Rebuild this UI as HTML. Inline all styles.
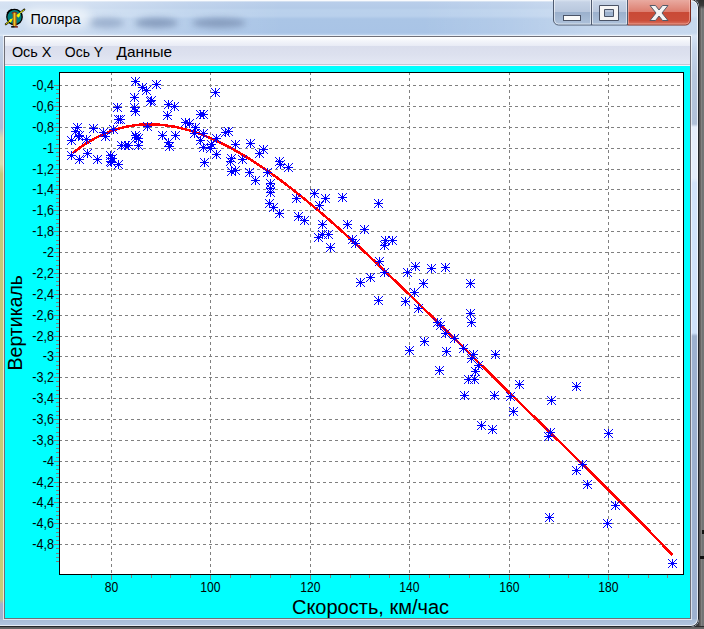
<!DOCTYPE html>
<html lang="ru"><head><meta charset="utf-8"><title>Поляра</title>
<style>
html,body{margin:0;padding:0;}
body{width:704px;height:629px;overflow:hidden;position:relative;font-family:"Liberation Sans",sans-serif;
 background:linear-gradient(to right,#3a3a3a 0,#3a3a3a 698px,#2e2e2e 698px,#565656 699.5px,#686565 700.5px,#828282 701.5px,#717375 702.5px,#777 704px);}
.abs{position:absolute}
#shadowb{left:0;top:626px;width:704px;height:3px;background:linear-gradient(#2b2b2b 0,#2b2b2b 1px,#5e5e5e 1px,#6a6a6a 3px)}
#win{left:-8px;top:-1px;width:707px;height:628px;border-radius:8px;overflow:hidden;background:#bcd1ea;}
#titlebg{left:0;top:1px;width:707px;height:37px;background:linear-gradient(to right,rgba(255,255,255,.42) 8px,rgba(255,255,255,.36) 100px,rgba(255,255,255,.12) 200px,rgba(255,255,255,0) 290px,rgba(255,255,255,0) 430px,rgba(255,255,255,.12) 520px,rgba(255,255,255,.3) 600px,rgba(255,255,255,.34) 706px),linear-gradient(#f0f4fa 0,#eaf0f8 1px,#b9ceea 2px,#b4cbe8 8px,#bad1ec 10px,#b9d0ec 16px,#aac5e6 19px,#a9c4e6 33px,#bed3ed 35px,#c6d9f0 37px);}
.blob{border-radius:50%;background:#8298ba;filter:blur(3.2px);opacity:.9}
#lborder{left:8px;top:37px;width:4px;height:590px;background:linear-gradient(#c4d4ea 0,#b8c8e0 30px,#aebdd6 92px,#d6dab0 102px,#d8dcb0 128px,#c2ca7a 138px,#c4cc78 563px,#a1b3ce 568px,#9fb1cc 590px)}
#rborder{left:699px;top:37px;width:7px;height:590px;background:linear-gradient(#d6e4f5 0,#c6d6ec 12px,#b7c7de 40px,#b0c0d8 88px,#e6eefb 91px,#e4edfb 142px,#d2e3fb 147px,#cfe2fb 297px,#9db1cf 300px,#9db1cf 590px)}
#bborder{left:8px;top:620px;width:699px;height:7px;background:linear-gradient(#a6bad5 0,#b0c4de 5px,#b0c4de 7px)}
#client{left:12px;top:37px;width:687px;height:583px;background:#6f6f78;box-shadow:0 0 0 1px rgba(255,255,255,.62)}
#menubar{left:13px;top:38px;width:685px;height:29px;background:linear-gradient(#ffffff 0,#f3f5fa 4px,#e8ebf5 9px,#d9ddec 9px,#dde1ef 18px,#e4e8f4 27px,#c3c7d6 27px,#c3c7d6 28px,#f4f4fa 28px);}
#cyan{left:13px;top:67px;width:685px;height:552px;background:#00ffff}
#edge{left:0;top:0;width:707px;height:628px;border-radius:8px;box-sizing:border-box;box-shadow:inset 0 0 0 1px #23262b,inset 0 0 0 2px rgba(255,255,255,.7)}
#tglow{left:32px;top:9px;width:66px;height:20px;border-radius:10px;background:rgba(255,255,255,.55);filter:blur(5px)}
.btns{left:561px;top:-1px;height:26px;}
.btn{position:absolute;top:0;height:25px;box-sizing:border-box}
svg.chart{position:absolute;left:0;top:0}
</style></head><body>
<div class="abs" id="shadowb"></div>
<div class="abs" style="left:702px;top:530px;width:2px;height:4px;background:#111"></div><div class="abs" style="left:700px;top:556px;width:4px;height:3px;background:#111"></div>
<div class="abs" style="left:699px;top:0;width:5px;height:9px;background:linear-gradient(#2f2f2f,#3a3a3a 60%,rgba(60,60,60,0))"></div>
<div class="abs" id="win">
 <div class="abs" id="titlebg"></div>
 <div class="abs blob" style="left:97px;top:19px;width:35px;height:10px;opacity:.6"></div>
 <div class="abs blob" style="left:143px;top:19px;width:43px;height:10px"></div>
 <div class="abs blob" style="left:200px;top:19px;width:54px;height:10px"></div>
 <div class="abs" id="lborder"></div>
 <div class="abs" id="rborder"></div>
 <div class="abs" id="bborder"></div>
 <div class="abs" id="client"></div>
 <div class="abs" id="menubar"></div>
 <div class="abs" id="cyan"></div>
 <div class="abs" id="tglow"></div>
 <div class="abs" id="edge"></div>
</div>
<svg class="chart" width="704" height="629" viewBox="0 0 704 629" style="position:absolute;left:0;top:0">
<!-- icon -->
<g>
<circle cx="14.5" cy="17" r="7.7" fill="#008080" stroke="#000" stroke-width="1.3"/>
<path d="M7.2 13.5A8 8 0 0 1 12 9.6" fill="none" stroke="#000" stroke-width="1.6"/>
<path d="M5.2 24.7L8.4 22.2M21.6 11.7L24.9 9.1" fill="none" stroke="#000" stroke-width="1.9"/>
<path d="M9.4 21.4L10 19.6L11.8 19.2L11.4 21L10.6 22.2ZM17.4 16L18 14.2L20 14.4L19.2 16.6L18 17.2Z" fill="#ffff00" stroke="#ffff00" stroke-width=".7" stroke-linejoin="round"/>
<path d="M5.7 24.3L24.3 9.7" stroke="#ffff00" stroke-width=".95" fill="none"/>
<path d="M11.8 13.5Q14.6 10.8 17.3 13.5" fill="none" stroke="#7a1a1a" stroke-width="1.3"/>
<rect x="12.7" y="12.6" width="3.9" height="13.6" fill="#a65c12"/>
<rect x="13.7" y="12.8" width="1.3" height="13.4" fill="#ecca2c"/>
<rect x="15.2" y="13" width=".6" height="13.2" fill="#dc9a12"/>
<rect x="11.2" y="26.1" width="3.6" height="1.5" fill="#000"/>
<rect x="14.8" y="26.1" width="3.1" height="1.5" fill="#7a1a10"/>
</g>
<g font-family="Liberation Sans, sans-serif" font-size="15px" fill="#000">
<text x="30.4" y="23.8" textLength="50.2" lengthAdjust="spacingAndGlyphs">Поляра</text>
<text x="11.9" y="56.7" textLength="39.6" lengthAdjust="spacingAndGlyphs">Ось X</text>
<text x="64.8" y="56.7" textLength="38.4" lengthAdjust="spacingAndGlyphs">Ось Y</text>
<text x="116.6" y="56.7" textLength="55.6" lengthAdjust="spacingAndGlyphs">Данные</text>
</g>
<!-- caption buttons -->
<defs>
<linearGradient id="gb" x1="0" y1="0" x2="0" y2="1"><stop offset="0" stop-color="#d9e3f0"/><stop offset=".08" stop-color="#c6d3e6"/><stop offset=".48" stop-color="#b8c7dd"/><stop offset=".5" stop-color="#9cb1cd"/><stop offset="1" stop-color="#aec2db"/></linearGradient>
<linearGradient id="gc" x1="0" y1="0" x2="0" y2="1"><stop offset="0" stop-color="#e9aaa0"/><stop offset=".48" stop-color="#dc7d6e"/><stop offset=".5" stop-color="#c94a36"/><stop offset=".82" stop-color="#cb4e3a"/><stop offset="1" stop-color="#dd7b6a"/></linearGradient>
</defs>
<path d="M553.5 0V20a5 5 0 0 0 5 5H627.5V0Z" fill="url(#gb)"/>
<path d="M627.5 0V25H685.5a5 5 0 0 0 5-5V0Z" fill="url(#gc)"/>
<path d="M553.5 0V20a5 5 0 0 0 5 5H627.5M591.5 0V25M627.5 0V25" fill="none" stroke="#4f5b70" stroke-width="1"/>
<path d="M627.5 25H685.5a5 5 0 0 0 5-5V0" fill="none" stroke="#7d2a1e" stroke-width="1"/>
<path d="M554.5 0V20a4 4 0 0 0 4 4H590.5V0M592.5 0V24H626.5V0" fill="none" stroke="rgba(255,255,255,.55)" stroke-width="1"/>
<path d="M628.5 0V24H685.5a4 4 0 0 0 4-4V0" fill="none" stroke="rgba(255,200,190,.5)" stroke-width="1"/>
<rect x="563.5" y="15.5" width="17" height="5" fill="#fafafa" stroke="#4a5366" stroke-width="1"/>
<path d="M599.5 5.5H618.5V20.5H599.5ZM604.5 9.5V16.5H613.5V9.5Z" fill="#f6f6f6" fill-rule="evenodd" stroke="#4a5366" stroke-width="1"/>
<path d="M650 5.5H655.5L659 10L662.5 5.5H668L662 13L668 20.5H662.5L659 16L655.5 20.5H650L656 13Z" fill="#f4f4f4" stroke="#555a68" stroke-width="1" stroke-linejoin="round"/>
</svg>
<svg class="chart" width="704" height="629" viewBox="0 0 704 629"><rect x="59.5" y="72.5" width="624.0" height="502.0" fill="#fff"/>
<path d="M59.0 85.5H683.0M59.0 106.5H683.0M59.0 127.5H683.0M59.0 148.5H683.0M59.0 169.5H683.0M59.0 189.5H683.0M59.0 210.5H683.0M59.0 231.5H683.0M59.0 252.5H683.0M59.0 273.5H683.0M59.0 294.5H683.0M59.0 315.5H683.0M59.0 336.5H683.0M59.0 356.5H683.0M59.0 377.5H683.0M59.0 398.5H683.0M59.0 419.5H683.0M59.0 440.5H683.0M59.0 461.5H683.0M59.0 482.5H683.0M59.0 502.5H683.0M59.0 523.5H683.0M59.0 544.5H683.0M111.5 72.0V574.0M210.5 72.0V574.0M310.5 72.0V574.0M409.5 72.0V574.0M509.5 72.0V574.0M608.5 72.0V574.0" stroke="#808080" stroke-width="1" stroke-dasharray="3 3" fill="none" shape-rendering="crispEdges"/>
<path d="M54.0 85.5H59.0M56.0 89.5H59.0M56.0 93.5H59.0M56.0 98.5H59.0M56.0 102.5H59.0M54.0 106.5H59.0M56.0 110.5H59.0M56.0 114.5H59.0M56.0 118.5H59.0M56.0 123.5H59.0M54.0 127.5H59.0M56.0 131.5H59.0M56.0 135.5H59.0M56.0 139.5H59.0M56.0 144.5H59.0M54.0 148.5H59.0M56.0 152.5H59.0M56.0 156.5H59.0M56.0 160.5H59.0M56.0 164.5H59.0M54.0 169.5H59.0M56.0 173.5H59.0M56.0 177.5H59.0M56.0 181.5H59.0M56.0 185.5H59.0M54.0 189.5H59.0M56.0 194.5H59.0M56.0 198.5H59.0M56.0 202.5H59.0M56.0 206.5H59.0M54.0 210.5H59.0M56.0 214.5H59.0M56.0 219.5H59.0M56.0 223.5H59.0M56.0 227.5H59.0M54.0 231.5H59.0M56.0 235.5H59.0M56.0 240.5H59.0M56.0 244.5H59.0M56.0 248.5H59.0M54.0 252.5H59.0M56.0 256.5H59.0M56.0 260.5H59.0M56.0 265.5H59.0M56.0 269.5H59.0M54.0 273.5H59.0M56.0 277.5H59.0M56.0 281.5H59.0M56.0 285.5H59.0M56.0 290.5H59.0M54.0 294.5H59.0M56.0 298.5H59.0M56.0 302.5H59.0M56.0 306.5H59.0M56.0 310.5H59.0M54.0 315.5H59.0M56.0 319.5H59.0M56.0 323.5H59.0M56.0 327.5H59.0M56.0 331.5H59.0M54.0 336.5H59.0M56.0 340.5H59.0M56.0 344.5H59.0M56.0 348.5H59.0M56.0 352.5H59.0M54.0 356.5H59.0M56.0 361.5H59.0M56.0 365.5H59.0M56.0 369.5H59.0M56.0 373.5H59.0M54.0 377.5H59.0M56.0 381.5H59.0M56.0 386.5H59.0M56.0 390.5H59.0M56.0 394.5H59.0M54.0 398.5H59.0M56.0 402.5H59.0M56.0 406.5H59.0M56.0 411.5H59.0M56.0 415.5H59.0M54.0 419.5H59.0M56.0 423.5H59.0M56.0 427.5H59.0M56.0 432.5H59.0M56.0 436.5H59.0M54.0 440.5H59.0M56.0 444.5H59.0M56.0 448.5H59.0M56.0 452.5H59.0M56.0 457.5H59.0M54.0 461.5H59.0M56.0 465.5H59.0M56.0 469.5H59.0M56.0 473.5H59.0M56.0 477.5H59.0M54.0 482.5H59.0M56.0 486.5H59.0M56.0 490.5H59.0M56.0 494.5H59.0M56.0 498.5H59.0M54.0 502.5H59.0M56.0 507.5H59.0M56.0 511.5H59.0M56.0 515.5H59.0M56.0 519.5H59.0M54.0 523.5H59.0M56.0 528.5H59.0M56.0 532.5H59.0M56.0 536.5H59.0M56.0 540.5H59.0M54.0 544.5H59.0M56.0 548.5H59.0M56.0 553.5H59.0M56.0 557.5H59.0M56.0 561.5H59.0M91.5 575.0V578.0M111.5 575.0V580.0M131.5 575.0V578.0M151.5 575.0V578.0M170.5 575.0V578.0M190.5 575.0V578.0M210.5 575.0V580.0M230.5 575.0V578.0M250.5 575.0V578.0M270.5 575.0V578.0M290.5 575.0V578.0M310.5 575.0V580.0M330.5 575.0V578.0M350.5 575.0V578.0M369.5 575.0V578.0M389.5 575.0V578.0M409.5 575.0V580.0M429.5 575.0V578.0M449.5 575.0V578.0M469.5 575.0V578.0M489.5 575.0V578.0M509.5 575.0V580.0M529.5 575.0V578.0M549.5 575.0V578.0M568.5 575.0V578.0M588.5 575.0V578.0M608.5 575.0V580.0M628.5 575.0V578.0M648.5 575.0V578.0M667.5 575.0V578.0" stroke="#808080" stroke-width="1" fill="none" shape-rendering="crispEdges"/>
<polyline points="72.7,153.2 75.7,150.9 78.7,148.6 81.7,146.5 84.7,144.5 87.7,142.6 90.7,140.8 93.7,139.0 96.7,137.4 99.7,135.9 102.7,134.5 105.7,133.2 108.7,132.0 111.7,130.9 114.7,129.9 117.7,128.9 120.7,128.1 123.7,127.3 126.7,126.7 129.7,126.1 132.7,125.6 135.7,125.2 138.7,124.8 141.7,124.6 144.7,124.4 147.7,124.3 150.7,124.3 153.7,124.4 156.7,124.5 159.7,124.7 162.7,125.0 165.7,125.4 168.7,125.8 171.7,126.3 174.7,126.8 177.7,127.4 180.7,128.1 183.7,128.9 186.7,129.7 189.7,130.5 192.7,131.5 195.7,132.5 198.7,133.5 201.7,134.6 204.7,135.8 207.7,137.0 210.7,138.2 213.7,139.6 216.7,140.9 219.7,142.4 222.7,143.8 225.7,145.3 228.7,146.9 231.7,148.5 234.7,150.2 237.7,151.8 240.7,153.6 243.7,155.4 246.7,157.2 249.7,159.0 252.7,160.9 255.7,162.9 258.7,164.9 261.7,166.9 264.7,168.9 267.7,171.0 270.7,173.1 273.7,175.3 276.7,177.4 279.7,179.6 282.7,181.9 285.7,184.2 288.7,186.5 291.7,188.8 294.7,191.1 297.7,193.5 300.7,195.9 303.7,198.3 306.7,200.8 309.7,203.3 312.7,205.8 315.7,208.3 318.7,210.8 321.7,213.4 324.7,216.0 327.7,218.6 330.7,221.2 333.7,223.8 336.7,226.5 339.7,229.2 342.7,231.9 345.7,234.6 348.7,237.3 351.7,240.0 354.7,242.8 357.7,245.5 360.7,248.3 363.7,251.1 366.7,253.9 369.7,256.7 372.7,259.5 375.7,262.3 378.7,265.2 381.7,268.0 384.7,270.9 387.7,273.7 390.7,276.6 393.7,279.5 396.7,282.3 399.7,285.2 402.7,288.1 405.7,291.0 408.7,293.9 411.7,296.8 414.7,299.8 417.7,302.7 420.7,305.6 423.7,308.5 426.7,311.5 429.7,314.4 432.7,317.3 435.7,320.3 438.7,323.2 441.7,326.2 444.7,329.1 447.7,332.0 450.7,335.0 453.7,337.9 456.7,340.9 459.7,343.8 462.7,346.8 465.7,349.7 468.7,352.7 471.7,355.6 474.7,358.6 477.7,361.5 480.7,364.5 483.7,367.4 486.7,370.4 489.7,373.3 492.7,376.3 495.7,379.2 498.7,382.2 501.7,385.1 504.7,388.1 507.7,391.0 510.7,393.9 513.7,396.9 516.7,399.8 519.7,402.8 522.7,405.7 525.7,408.6 528.7,411.6 531.7,414.5 534.7,417.4 537.7,420.4 540.7,423.3 543.7,426.2 546.7,429.2 549.7,432.1 552.7,435.0 555.7,438.0 558.7,440.9 561.7,443.8 564.7,446.8 567.7,449.7 570.7,452.7 573.7,455.6 576.7,458.5 579.7,461.5 582.7,464.4 585.7,467.4 588.7,470.3 591.7,473.3 594.7,476.2 597.7,479.2 600.7,482.2 603.7,485.1 606.7,488.1 609.7,491.1 612.7,494.1 615.7,497.0 618.7,500.0 621.7,503.0 624.7,506.0 627.7,509.1 630.7,512.1 633.7,515.1 636.7,518.1 639.7,521.2 642.7,524.3 645.7,527.3 648.7,530.4 651.7,533.5 654.7,536.6 657.7,539.7 660.7,542.8 663.7,546.0 666.7,549.1 669.7,552.3 672.4,555.1" stroke="#ff0000" stroke-width="2.5" fill="none" stroke-linejoin="round" stroke-linecap="butt" shape-rendering="crispEdges"/>
<path d="M113.0 107.5h9M117.5 103.0v9M113.0 103.0l9 9M113.0 112.0l9 -9M114.0 119.5h9M118.5 115.0v9M114.0 115.0l9 9M114.0 124.0l9 -9M116.0 119.5h9M120.5 115.0v9M116.0 115.0l9 9M116.0 124.0l9 -9M73.0 127.5h9M77.5 123.0v9M73.0 123.0l9 9M73.0 132.0l9 -9M71.0 131.5h9M75.5 127.0v9M71.0 127.0l9 9M71.0 136.0l9 -9M75.0 135.5h9M79.5 131.0v9M75.0 131.0l9 9M75.0 140.0l9 -9M67.0 140.5h9M71.5 136.0v9M67.0 136.0l9 9M67.0 145.0l9 -9M74.0 136.5h9M78.5 132.0v9M74.0 132.0l9 9M74.0 141.0l9 -9M82.0 139.5h9M86.5 135.0v9M82.0 135.0l9 9M82.0 144.0l9 -9M89.0 128.5h9M93.5 124.0v9M89.0 124.0l9 9M89.0 133.0l9 -9M99.0 132.5h9M103.5 128.0v9M99.0 128.0l9 9M99.0 137.0l9 -9M101.0 136.5h9M105.5 132.0v9M101.0 132.0l9 9M101.0 141.0l9 -9M109.0 129.5h9M113.5 125.0v9M109.0 125.0l9 9M109.0 134.0l9 -9M67.0 155.5h9M71.5 151.0v9M67.0 151.0l9 9M67.0 160.0l9 -9M75.0 159.5h9M79.5 155.0v9M75.0 155.0l9 9M75.0 164.0l9 -9M83.0 153.5h9M87.5 149.0v9M83.0 149.0l9 9M83.0 158.0l9 -9M93.0 159.5h9M97.5 155.0v9M93.0 155.0l9 9M93.0 164.0l9 -9M106.0 155.5h9M110.5 151.0v9M106.0 151.0l9 9M106.0 160.0l9 -9M108.0 158.5h9M112.5 154.0v9M108.0 154.0l9 9M108.0 163.0l9 -9M106.0 161.5h9M110.5 157.0v9M106.0 157.0l9 9M106.0 166.0l9 -9M107.0 162.5h9M111.5 158.0v9M107.0 158.0l9 9M107.0 167.0l9 -9M114.0 164.5h9M118.5 160.0v9M114.0 160.0l9 9M114.0 169.0l9 -9M117.0 145.5h9M121.5 141.0v9M117.0 141.0l9 9M117.0 150.0l9 -9M121.0 145.5h9M125.5 141.0v9M121.0 141.0l9 9M121.0 150.0l9 -9M124.0 145.5h9M128.5 141.0v9M124.0 141.0l9 9M124.0 150.0l9 -9M131.0 81.5h9M135.5 77.0v9M131.0 77.0l9 9M131.0 86.0l9 -9M138.0 87.5h9M142.5 83.0v9M138.0 83.0l9 9M138.0 92.0l9 -9M142.0 90.5h9M146.5 86.0v9M142.0 86.0l9 9M142.0 95.0l9 -9M152.0 84.5h9M156.5 80.0v9M152.0 80.0l9 9M152.0 89.0l9 -9M130.0 97.5h9M134.5 93.0v9M130.0 93.0l9 9M130.0 102.0l9 -9M146.0 101.5h9M150.5 97.0v9M146.0 97.0l9 9M146.0 106.0l9 -9M147.0 100.5h9M151.5 96.0v9M147.0 96.0l9 9M147.0 105.0l9 -9M130.0 107.5h9M134.5 103.0v9M130.0 103.0l9 9M130.0 112.0l9 -9M131.0 111.5h9M135.5 107.0v9M131.0 107.0l9 9M131.0 116.0l9 -9M164.0 104.5h9M168.5 100.0v9M164.0 100.0l9 9M164.0 109.0l9 -9M170.0 106.5h9M174.5 102.0v9M170.0 102.0l9 9M170.0 111.0l9 -9M163.0 115.5h9M167.5 111.0v9M163.0 111.0l9 9M163.0 120.0l9 -9M181.0 122.5h9M185.5 118.0v9M181.0 118.0l9 9M181.0 127.0l9 -9M185.0 123.5h9M189.5 119.0v9M185.0 119.0l9 9M185.0 128.0l9 -9M143.0 126.5h9M147.5 122.0v9M143.0 122.0l9 9M143.0 131.0l9 -9M131.0 135.5h9M135.5 131.0v9M131.0 131.0l9 9M131.0 140.0l9 -9M134.0 138.5h9M138.5 134.0v9M134.0 134.0l9 9M134.0 143.0l9 -9M132.0 137.5h9M136.5 133.0v9M132.0 133.0l9 9M132.0 142.0l9 -9M134.0 145.5h9M138.5 141.0v9M134.0 141.0l9 9M134.0 150.0l9 -9M158.0 135.5h9M162.5 131.0v9M158.0 131.0l9 9M158.0 140.0l9 -9M171.0 135.5h9M175.5 131.0v9M171.0 131.0l9 9M171.0 140.0l9 -9M164.0 142.5h9M168.5 138.0v9M164.0 138.0l9 9M164.0 147.0l9 -9M165.0 146.5h9M169.5 142.0v9M165.0 142.0l9 9M165.0 151.0l9 -9M211.0 92.5h9M215.5 88.0v9M211.0 88.0l9 9M211.0 97.0l9 -9M196.0 114.5h9M200.5 110.0v9M196.0 110.0l9 9M196.0 119.0l9 -9M199.0 114.5h9M203.5 110.0v9M199.0 110.0l9 9M199.0 119.0l9 -9M191.0 127.5h9M195.5 123.0v9M191.0 123.0l9 9M191.0 132.0l9 -9M190.0 133.5h9M194.5 129.0v9M190.0 129.0l9 9M190.0 138.0l9 -9M199.0 133.5h9M203.5 129.0v9M199.0 129.0l9 9M199.0 138.0l9 -9M196.0 140.5h9M200.5 136.0v9M196.0 136.0l9 9M196.0 145.0l9 -9M199.0 147.5h9M203.5 143.0v9M199.0 143.0l9 9M199.0 152.0l9 -9M207.0 144.5h9M211.5 140.0v9M207.0 140.0l9 9M207.0 149.0l9 -9M206.0 148.5h9M210.5 144.0v9M206.0 144.0l9 9M206.0 153.0l9 -9M212.0 138.5h9M216.5 134.0v9M212.0 134.0l9 9M212.0 143.0l9 -9M212.0 154.5h9M216.5 150.0v9M212.0 150.0l9 9M212.0 159.0l9 -9M200.0 162.5h9M204.5 158.0v9M200.0 158.0l9 9M200.0 167.0l9 -9M221.0 132.5h9M225.5 128.0v9M221.0 128.0l9 9M221.0 137.0l9 -9M224.0 131.5h9M228.5 127.0v9M224.0 127.0l9 9M224.0 136.0l9 -9M231.0 144.5h9M235.5 140.0v9M231.0 140.0l9 9M231.0 149.0l9 -9M246.0 143.5h9M250.5 139.0v9M246.0 139.0l9 9M246.0 148.0l9 -9M227.0 158.5h9M231.5 154.0v9M227.0 154.0l9 9M227.0 163.0l9 -9M226.0 161.5h9M230.5 157.0v9M226.0 157.0l9 9M226.0 166.0l9 -9M238.0 159.5h9M242.5 155.0v9M238.0 155.0l9 9M238.0 164.0l9 -9M255.0 153.5h9M259.5 149.0v9M255.0 149.0l9 9M255.0 158.0l9 -9M259.0 149.5h9M263.5 145.0v9M259.0 145.0l9 9M259.0 154.0l9 -9M227.0 171.5h9M231.5 167.0v9M227.0 167.0l9 9M227.0 176.0l9 -9M231.0 170.5h9M235.5 166.0v9M231.0 166.0l9 9M231.0 175.0l9 -9M245.0 172.5h9M249.5 168.0v9M245.0 168.0l9 9M245.0 177.0l9 -9M251.0 180.5h9M255.5 176.0v9M251.0 176.0l9 9M251.0 185.0l9 -9M263.0 172.5h9M267.5 168.0v9M263.0 168.0l9 9M263.0 177.0l9 -9M275.0 161.5h9M279.5 157.0v9M275.0 157.0l9 9M275.0 166.0l9 -9M276.0 164.5h9M280.5 160.0v9M276.0 160.0l9 9M276.0 169.0l9 -9M284.0 167.5h9M288.5 163.0v9M284.0 163.0l9 9M284.0 172.0l9 -9M266.0 183.5h9M270.5 179.0v9M266.0 179.0l9 9M266.0 188.0l9 -9M266.0 188.5h9M270.5 184.0v9M266.0 184.0l9 9M266.0 193.0l9 -9M266.0 192.5h9M270.5 188.0v9M266.0 188.0l9 9M266.0 197.0l9 -9M265.0 203.5h9M269.5 199.0v9M265.0 199.0l9 9M265.0 208.0l9 -9M269.0 207.5h9M273.5 203.0v9M269.0 203.0l9 9M269.0 212.0l9 -9M275.0 213.5h9M279.5 209.0v9M275.0 209.0l9 9M275.0 218.0l9 -9M292.0 198.5h9M296.5 194.0v9M292.0 194.0l9 9M292.0 203.0l9 -9M310.0 193.5h9M314.5 189.0v9M310.0 189.0l9 9M310.0 198.0l9 -9M321.0 198.5h9M325.5 194.0v9M321.0 194.0l9 9M321.0 203.0l9 -9M315.0 205.5h9M319.5 201.0v9M315.0 201.0l9 9M315.0 210.0l9 -9M338.0 197.5h9M342.5 193.0v9M338.0 193.0l9 9M338.0 202.0l9 -9M294.0 216.5h9M298.5 212.0v9M294.0 212.0l9 9M294.0 221.0l9 -9M300.0 220.5h9M304.5 216.0v9M300.0 216.0l9 9M300.0 225.0l9 -9M318.0 224.5h9M322.5 220.0v9M318.0 220.0l9 9M318.0 229.0l9 -9M343.0 224.5h9M347.5 220.0v9M343.0 220.0l9 9M343.0 229.0l9 -9M314.0 237.5h9M318.5 233.0v9M314.0 233.0l9 9M314.0 242.0l9 -9M318.0 234.5h9M322.5 230.0v9M318.0 230.0l9 9M318.0 239.0l9 -9M324.0 234.5h9M328.5 230.0v9M324.0 230.0l9 9M324.0 239.0l9 -9M326.0 247.5h9M330.5 243.0v9M326.0 243.0l9 9M326.0 252.0l9 -9M374.0 203.5h9M378.5 199.0v9M374.0 199.0l9 9M374.0 208.0l9 -9M360.0 229.5h9M364.5 225.0v9M360.0 225.0l9 9M360.0 234.0l9 -9M348.0 239.5h9M352.5 235.0v9M348.0 235.0l9 9M348.0 244.0l9 -9M351.0 243.5h9M355.5 239.0v9M351.0 239.0l9 9M351.0 248.0l9 -9M381.0 240.5h9M385.5 236.0v9M381.0 236.0l9 9M381.0 245.0l9 -9M388.0 240.5h9M392.5 236.0v9M388.0 236.0l9 9M388.0 245.0l9 -9M380.0 245.5h9M384.5 241.0v9M380.0 241.0l9 9M380.0 250.0l9 -9M375.0 261.5h9M379.5 257.0v9M375.0 257.0l9 9M375.0 266.0l9 -9M380.0 272.5h9M384.5 268.0v9M380.0 268.0l9 9M380.0 277.0l9 -9M403.0 272.5h9M407.5 268.0v9M403.0 268.0l9 9M403.0 277.0l9 -9M366.0 277.5h9M370.5 273.0v9M366.0 273.0l9 9M366.0 282.0l9 -9M356.0 282.5h9M360.5 278.0v9M356.0 278.0l9 9M356.0 287.0l9 -9M374.0 300.5h9M378.5 296.0v9M374.0 296.0l9 9M374.0 305.0l9 -9M401.0 301.5h9M405.5 297.0v9M401.0 297.0l9 9M401.0 306.0l9 -9M405.0 350.5h9M409.5 346.0v9M405.0 346.0l9 9M405.0 355.0l9 -9M411.0 266.5h9M415.5 262.0v9M411.0 262.0l9 9M411.0 271.0l9 -9M427.0 268.5h9M431.5 264.0v9M427.0 264.0l9 9M427.0 273.0l9 -9M441.0 267.5h9M445.5 263.0v9M441.0 263.0l9 9M441.0 272.0l9 -9M419.0 283.5h9M423.5 279.0v9M419.0 279.0l9 9M419.0 288.0l9 -9M410.0 292.5h9M414.5 288.0v9M410.0 288.0l9 9M410.0 297.0l9 -9M414.0 308.5h9M418.5 304.0v9M414.0 304.0l9 9M414.0 313.0l9 -9M433.0 322.5h9M437.5 318.0v9M433.0 318.0l9 9M433.0 327.0l9 -9M436.0 325.5h9M440.5 321.0v9M436.0 321.0l9 9M436.0 330.0l9 -9M441.0 333.5h9M445.5 329.0v9M441.0 329.0l9 9M441.0 338.0l9 -9M450.0 338.5h9M454.5 334.0v9M450.0 334.0l9 9M450.0 343.0l9 -9M420.0 341.5h9M424.5 337.0v9M420.0 337.0l9 9M420.0 346.0l9 -9M459.0 348.5h9M463.5 344.0v9M459.0 344.0l9 9M459.0 353.0l9 -9M442.0 351.5h9M446.5 347.0v9M442.0 347.0l9 9M442.0 356.0l9 -9M435.0 370.5h9M439.5 366.0v9M435.0 366.0l9 9M435.0 375.0l9 -9M464.0 379.5h9M468.5 375.0v9M464.0 375.0l9 9M464.0 384.0l9 -9M460.0 395.5h9M464.5 391.0v9M460.0 391.0l9 9M460.0 400.0l9 -9M466.0 283.5h9M470.5 279.0v9M466.0 279.0l9 9M466.0 288.0l9 -9M466.0 313.5h9M470.5 309.0v9M466.0 309.0l9 9M466.0 318.0l9 -9M467.0 322.5h9M471.5 318.0v9M467.0 318.0l9 9M467.0 327.0l9 -9M469.0 354.5h9M473.5 350.0v9M469.0 350.0l9 9M469.0 359.0l9 -9M491.0 354.5h9M495.5 350.0v9M491.0 350.0l9 9M491.0 359.0l9 -9M467.0 358.5h9M471.5 354.0v9M467.0 354.0l9 9M467.0 363.0l9 -9M474.0 365.5h9M478.5 361.0v9M474.0 361.0l9 9M474.0 370.0l9 -9M471.0 371.5h9M475.5 367.0v9M471.0 367.0l9 9M471.0 376.0l9 -9M470.0 379.5h9M474.5 375.0v9M470.0 375.0l9 9M470.0 384.0l9 -9M490.0 395.5h9M494.5 391.0v9M490.0 391.0l9 9M490.0 400.0l9 -9M506.0 396.5h9M510.5 392.0v9M506.0 392.0l9 9M506.0 401.0l9 -9M515.0 384.5h9M519.5 380.0v9M515.0 380.0l9 9M515.0 389.0l9 -9M509.0 411.5h9M513.5 407.0v9M509.0 407.0l9 9M509.0 416.0l9 -9M477.0 425.5h9M481.5 421.0v9M477.0 421.0l9 9M477.0 430.0l9 -9M488.0 429.5h9M492.5 425.0v9M488.0 425.0l9 9M488.0 434.0l9 -9M547.0 400.5h9M551.5 396.0v9M547.0 396.0l9 9M547.0 405.0l9 -9M572.0 386.5h9M576.5 382.0v9M572.0 382.0l9 9M572.0 391.0l9 -9M546.0 432.5h9M550.5 428.0v9M546.0 428.0l9 9M546.0 437.0l9 -9M544.0 436.5h9M548.5 432.0v9M544.0 432.0l9 9M544.0 441.0l9 -9M578.0 464.5h9M582.5 460.0v9M578.0 460.0l9 9M578.0 469.0l9 -9M572.0 470.5h9M576.5 466.0v9M572.0 466.0l9 9M572.0 475.0l9 -9M604.0 433.5h9M608.5 429.0v9M604.0 429.0l9 9M604.0 438.0l9 -9M583.0 484.5h9M587.5 480.0v9M583.0 480.0l9 9M583.0 489.0l9 -9M545.0 517.5h9M549.5 513.0v9M545.0 513.0l9 9M545.0 522.0l9 -9M611.0 505.5h9M615.5 501.0v9M611.0 501.0l9 9M611.0 510.0l9 -9M603.0 523.5h9M607.5 519.0v9M603.0 519.0l9 9M603.0 528.0l9 -9M668.0 563.5h9M672.5 559.0v9M668.0 559.0l9 9M668.0 568.0l9 -9" stroke="#0000ff" stroke-width="1" fill="none" shape-rendering="crispEdges"/>
<rect x="59.5" y="72.5" width="624.0" height="502.0" fill="none" stroke="#000" stroke-width="1" shape-rendering="crispEdges"/>
<g font-family="Liberation Sans, sans-serif" font-size="14px" fill="#000"><text transform="translate(53.9 90.0) scale(0.9 1)" text-anchor="end">-0,4</text><text transform="translate(53.9 111.0) scale(0.9 1)" text-anchor="end">-0,6</text><text transform="translate(53.9 132.0) scale(0.9 1)" text-anchor="end">-0,8</text><text transform="translate(53.9 153.0) scale(0.9 1)" text-anchor="end">-1</text><text transform="translate(53.9 174.0) scale(0.9 1)" text-anchor="end">-1,2</text><text transform="translate(53.9 194.0) scale(0.9 1)" text-anchor="end">-1,4</text><text transform="translate(53.9 215.0) scale(0.9 1)" text-anchor="end">-1,6</text><text transform="translate(53.9 236.0) scale(0.9 1)" text-anchor="end">-1,8</text><text transform="translate(53.9 257.0) scale(0.9 1)" text-anchor="end">-2</text><text transform="translate(53.9 278.0) scale(0.9 1)" text-anchor="end">-2,2</text><text transform="translate(53.9 299.0) scale(0.9 1)" text-anchor="end">-2,4</text><text transform="translate(53.9 320.0) scale(0.9 1)" text-anchor="end">-2,6</text><text transform="translate(53.9 341.0) scale(0.9 1)" text-anchor="end">-2,8</text><text transform="translate(53.9 361.0) scale(0.9 1)" text-anchor="end">-3</text><text transform="translate(53.9 382.0) scale(0.9 1)" text-anchor="end">-3,2</text><text transform="translate(53.9 403.0) scale(0.9 1)" text-anchor="end">-3,4</text><text transform="translate(53.9 424.0) scale(0.9 1)" text-anchor="end">-3,6</text><text transform="translate(53.9 445.0) scale(0.9 1)" text-anchor="end">-3,8</text><text transform="translate(53.9 466.0) scale(0.9 1)" text-anchor="end">-4</text><text transform="translate(53.9 487.0) scale(0.9 1)" text-anchor="end">-4,2</text><text transform="translate(53.9 507.0) scale(0.9 1)" text-anchor="end">-4,4</text><text transform="translate(53.9 528.0) scale(0.9 1)" text-anchor="end">-4,6</text><text transform="translate(53.9 549.0) scale(0.9 1)" text-anchor="end">-4,8</text><text transform="translate(111.4 592.0) scale(0.87 1)" text-anchor="middle">80</text><text transform="translate(210.4 592.0) scale(0.87 1)" text-anchor="middle">100</text><text transform="translate(310.4 592.0) scale(0.87 1)" text-anchor="middle">120</text><text transform="translate(409.4 592.0) scale(0.87 1)" text-anchor="middle">140</text><text transform="translate(509.4 592.0) scale(0.87 1)" text-anchor="middle">160</text><text transform="translate(608.4 592.0) scale(0.87 1)" text-anchor="middle">180</text></g>
<text x="370.5" y="614" text-anchor="middle" font-family="Liberation Sans, sans-serif" font-size="20px" fill="#000">Скорость, км/час</text>
<text transform="translate(22.3 322.7) rotate(-90)" text-anchor="middle" font-family="Liberation Sans, sans-serif" font-size="19.5px" fill="#000">Вертикаль</text></svg>
</body></html>
